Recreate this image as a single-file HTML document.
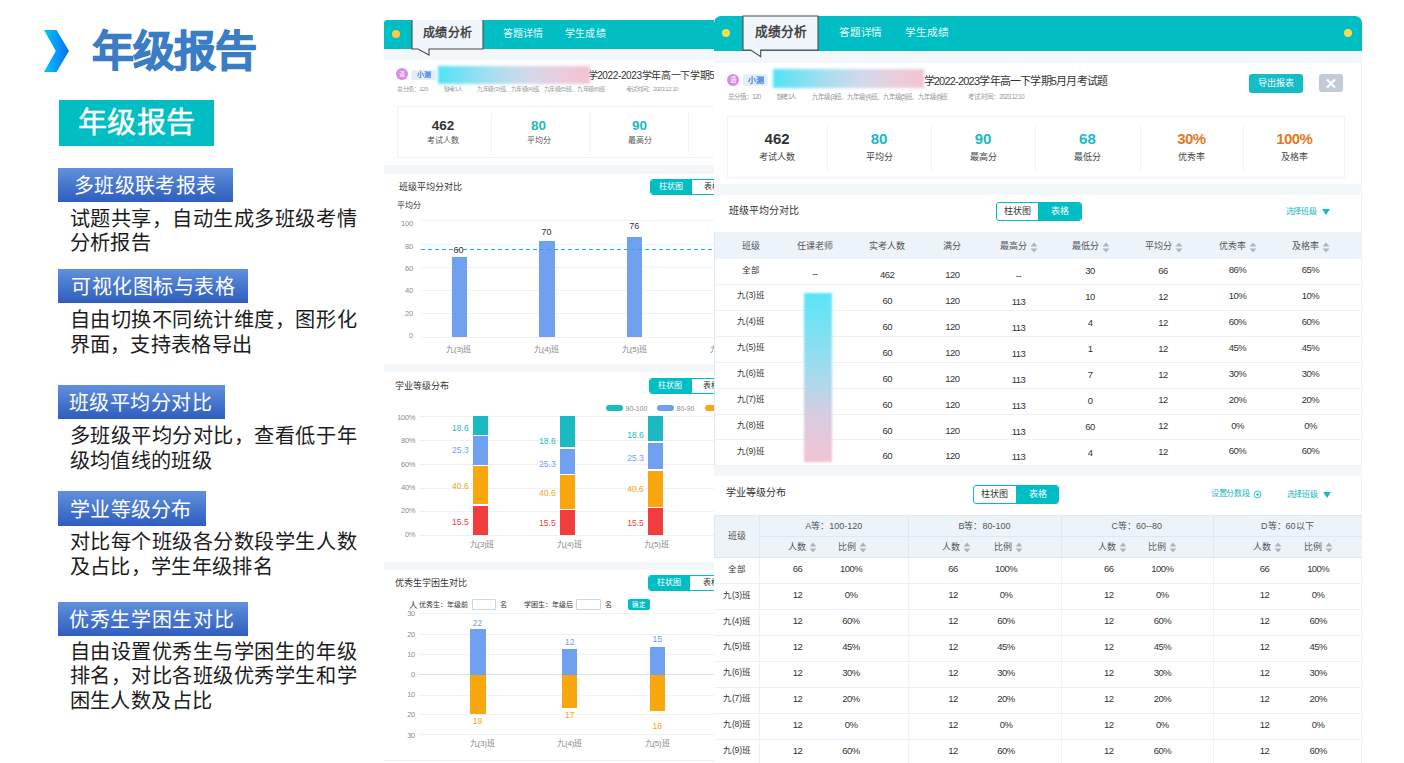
<!DOCTYPE html><html lang="zh-CN"><head><meta charset="utf-8"><style>
html,body{margin:0;padding:0;width:1404px;height:763px;overflow:hidden;background:#fff;font-family:"Liberation Sans",sans-serif;}
.t{position:absolute;white-space:nowrap;}
.r{position:absolute;box-sizing:border-box;}
.clip{position:absolute;overflow:hidden;}
</style></head><body>
<svg class="r" style="left:0;top:0" width="380" height="763"><defs><linearGradient id="chev" x1="0" y1="0" x2="1" y2="0"><stop offset="0" stop-color="#00c8fc"/><stop offset="1" stop-color="#0a6ef6"/></linearGradient><linearGradient id="lbl" x1="0" y1="0" x2="0" y2="1"><stop offset="0" stop-color="#5f8edb"/><stop offset="1" stop-color="#2f5ec0"/></linearGradient></defs><polygon points="44,30 56.5,30 69,51 56.5,72 44,72 55.8,51" fill="url(#chev)"/></svg>
<div class="t" style="left:92.0px;top:24.5px;height:54px;line-height:54px;font-size:42px;color:#3b7dc4;font-weight:bold;-webkit-text-stroke:1.1px #3b7dc4;letter-spacing:-0.967px">年级报告</div>
<div class="r" style="left:59.0px;top:100.0px;width:155.0px;height:46.0px;background:#00bec4"></div>
<div class="t" style="left:-13.4px;width:300px;text-align:center;top:104.5px;height:37px;line-height:37px;font-size:29px;color:#fff;font-weight:normal;-webkit-text-stroke:0.5px #fff;letter-spacing:0.150px">年级报告</div>
<div class="r" style="left:58px;top:168px;width:175px;height:34px;background:linear-gradient(#6090dc,#2e5dbf)"></div>
<div class="t" style="left:74.0px;top:173.2px;height:26px;line-height:26px;font-size:20px;color:#fff;font-weight:normal;;letter-spacing:0.333px">多班级联考报表</div>
<div class="t" style="left:69.5px;top:205.5px;height:26px;line-height:26px;font-size:20.2px;color:#1c1c1c;font-weight:normal;;letter-spacing:0.539px">试题共享，自动生成多班级考情</div>
<div class="t" style="left:69.5px;top:230.0px;height:26px;line-height:26px;font-size:20.2px;color:#1c1c1c;font-weight:normal;;letter-spacing:0.337px">分析报告</div>
<div class="r" style="left:58px;top:269px;width:190px;height:34px;background:linear-gradient(#6090dc,#2e5dbf)"></div>
<div class="t" style="left:71.3px;top:274.2px;height:26px;line-height:26px;font-size:20px;color:#fff;font-weight:normal;;letter-spacing:0.486px">可视化图标与表格</div>
<div class="t" style="left:69.5px;top:307.0px;height:26px;line-height:26px;font-size:20.2px;color:#1c1c1c;font-weight:normal;;letter-spacing:0.539px">自由切换不同统计维度，图形化</div>
<div class="t" style="left:69.5px;top:331.5px;height:26px;line-height:26px;font-size:20.2px;color:#1c1c1c;font-weight:normal;;letter-spacing:0.301px">界面，支持表格导出</div>
<div class="r" style="left:58px;top:385px;width:167px;height:34px;background:linear-gradient(#6090dc,#2e5dbf)"></div>
<div class="t" style="left:68.7px;top:390.2px;height:26px;line-height:26px;font-size:20px;color:#fff;font-weight:normal;;letter-spacing:0.500px">班级平均分对比</div>
<div class="t" style="left:69.5px;top:423.0px;height:26px;line-height:26px;font-size:20.2px;color:#1c1c1c;font-weight:normal;;letter-spacing:0.539px">多班级平均分对比，查看低于年</div>
<div class="t" style="left:69.5px;top:447.5px;height:26px;line-height:26px;font-size:20.2px;color:#1c1c1c;font-weight:normal;;letter-spacing:0.335px">级均值线的班级</div>
<div class="r" style="left:58px;top:491px;width:148px;height:35px;background:linear-gradient(#6090dc,#2e5dbf)"></div>
<div class="t" style="left:70.0px;top:496.7px;height:26px;line-height:26px;font-size:20px;color:#fff;font-weight:normal;;letter-spacing:0.300px">学业等级分布</div>
<div class="t" style="left:69.5px;top:529.0px;height:26px;line-height:26px;font-size:20.2px;color:#1c1c1c;font-weight:normal;;letter-spacing:0.539px">对比每个班级各分数段学生人数</div>
<div class="t" style="left:69.5px;top:553.5px;height:26px;line-height:26px;font-size:20.2px;color:#1c1c1c;font-weight:normal;;letter-spacing:0.334px">及占比，学生年级排名</div>
<div class="r" style="left:58px;top:602px;width:190px;height:34px;background:linear-gradient(#6090dc,#2e5dbf)"></div>
<div class="t" style="left:69.0px;top:607.2px;height:26px;line-height:26px;font-size:20px;color:#fff;font-weight:normal;;letter-spacing:0.643px">优秀生学困生对比</div>
<div class="t" style="left:69.5px;top:638.5px;height:26px;line-height:26px;font-size:20.2px;color:#1c1c1c;font-weight:normal;;letter-spacing:0.539px">自由设置优秀生与学困生的年级</div>
<div class="t" style="left:69.5px;top:663.0px;height:26px;line-height:26px;font-size:20.2px;color:#1c1c1c;font-weight:normal;;letter-spacing:0.539px">排名，对比各班级优秀学生和学</div>
<div class="t" style="left:69.5px;top:687.5px;height:26px;line-height:26px;font-size:20.2px;color:#1c1c1c;font-weight:normal;;letter-spacing:0.468px">困生人数及占比</div>
<div class="clip" style="left:0;top:0;width:714px;height:763px">
<div class="r" style="left:384.0px;top:20.0px;width:346.0px;height:29.0px;background:#00bec4;border-top-left-radius:3px"></div>
<div class="r" style="left:391.6px;top:30.0px;width:8.0px;height:8.0px;background:#f6cc46;border-radius:50%"></div>
<div class="r" style="left:384.0px;top:49.0px;width:330.0px;height:11.0px;background:#f4f7fa"></div>
<svg class="r" style="left:411px;top:20px;overflow:visible" width="73" height="37"><path d="M1,0 L1,29 L7,29 L18,35 L18,29 L72,29 L72,0 Z" fill="#eff5fb"/><path d="M1,0 L1,29 L7,29 L18,35 L18,29 L72,29 L72,0" fill="none" stroke="#4d4d4d" stroke-width="1.1"/></svg>
<div class="t" style="left:297.6px;width:300px;text-align:center;top:25.5px;height:15px;line-height:15px;font-size:12px;color:#444;font-weight:bold;;letter-spacing:0.200px">成绩分析</div>
<div class="t" style="left:503.0px;top:26.5px;height:13px;line-height:13px;font-size:10px;color:#eafafa;font-weight:normal;;letter-spacing:0.033px">答题详情</div>
<div class="t" style="left:565.0px;top:26.5px;height:13px;line-height:13px;font-size:10px;color:#eafafa;font-weight:normal;;letter-spacing:0.167px">学生成绩</div>
<div class="r" style="left:396.0px;top:68.4px;width:12.0px;height:12.0px;background:#d98ae6;border-radius:50%"></div>
<div class="t" style="left:252.0px;width:300px;text-align:center;top:70.9px;height:7px;line-height:7px;font-size:6px;color:#fff;font-weight:normal;">语</div>
<div class="r" style="left:411.4px;top:69.6px;width:24.4px;height:10.4px;background:#e6eef8;border-radius:2px"></div>
<div class="t" style="left:273.6px;width:300px;text-align:center;top:70.3px;height:9px;line-height:9px;font-size:7px;color:#3f7fe0;font-weight:bold;">小测</div>
<div class="t" style="left:587.5px;top:68.5px;height:13px;line-height:13px;font-size:10px;color:#333;font-weight:normal;;letter-spacing:-0.359px">学2022-2023学年高一下学期5月月考试题</div>
<div class="r" style="left:438.0px;top:65.5px;width:152.0px;height:18.5px;background:linear-gradient(90deg,#52e2f5 0%,#a6def0 35%,#d2d9ea 60%,#e9cddd 80%,#f3c3d2 100%);filter:blur(1.8px)"></div>
<div class="t" style="left:397.0px;top:85.5px;height:7px;line-height:7px;font-size:6px;color:#9a9a9a;font-weight:normal;;letter-spacing:-0.453px">总分值：120</div>
<div class="t" style="left:443.5px;top:85.5px;height:7px;line-height:7px;font-size:6px;color:#9a9a9a;font-weight:normal;;letter-spacing:-0.515px">缺考1人</div>
<div class="t" style="left:477.4px;top:85.5px;height:7px;line-height:7px;font-size:6px;color:#9a9a9a;font-weight:normal;;letter-spacing:-0.511px">九年级(3)班、九年级(4)班、九年级(5)班、九年级(6)班</div>
<div class="t" style="left:625.6px;top:85.5px;height:7px;line-height:7px;font-size:6px;color:#9a9a9a;font-weight:normal;;letter-spacing:-0.524px">考试时间：2023.12.10</div>
<div class="r" style="left:396.5px;top:105.7px;width:343.5px;height:52.8px;border:1px solid #f0f2f5"></div>
<div class="r" style="left:491.4px;top:113.0px;width:1.0px;height:40.0px;background:#f1f3f6"></div>
<div class="r" style="left:589.5px;top:113.0px;width:1.0px;height:40.0px;background:#f1f3f6"></div>
<div class="r" style="left:688.0px;top:113.0px;width:1.0px;height:40.0px;background:#f1f3f6"></div>
<div class="t" style="left:293.0px;width:300px;text-align:center;top:116.7px;height:17px;line-height:17px;font-size:13.5px;color:#333;font-weight:bold;">462</div>
<div class="t" style="left:293.0px;width:300px;text-align:center;top:136.0px;height:10px;line-height:10px;font-size:8px;color:#555;font-weight:normal;">考试人数</div>
<div class="t" style="left:388.6px;width:300px;text-align:center;top:116.7px;height:17px;line-height:17px;font-size:13.5px;color:#1bb9c1;font-weight:bold;">80</div>
<div class="t" style="left:388.6px;width:300px;text-align:center;top:136.0px;height:10px;line-height:10px;font-size:8px;color:#555;font-weight:normal;">平均分</div>
<div class="t" style="left:489.6px;width:300px;text-align:center;top:116.7px;height:17px;line-height:17px;font-size:13.5px;color:#1bb9c1;font-weight:bold;">90</div>
<div class="t" style="left:489.6px;width:300px;text-align:center;top:136.0px;height:10px;line-height:10px;font-size:8px;color:#555;font-weight:normal;">最高分</div>
<div class="r" style="left:384.0px;top:165.0px;width:330.0px;height:8.6px;background:#f4f7fa"></div>
<div class="t" style="left:399.0px;top:182.0px;height:11px;line-height:11px;font-size:9px;color:#333;font-weight:normal;">班级平均分对比</div>
<div class="r" style="left:650px;top:179px;width:82px;height:16.400000000000006px;border:1px solid #00bec4;border-radius:3px;background:#fff;overflow:hidden"><div style="position:absolute;left:0;top:0;width:41.200000000000045px;height:100%;background:#00bec4"></div></div>
<div class="t" style="left:520.6px;width:300px;text-align:center;top:182.2px;height:10px;line-height:10px;font-size:8px;color:#fff;font-weight:normal;">柱状图</div>
<div class="t" style="left:561.6px;width:300px;text-align:center;top:182.2px;height:10px;line-height:10px;font-size:8px;color:#333;font-weight:normal;">表格</div>
<div class="t" style="left:397.0px;top:201.0px;height:10px;line-height:10px;font-size:8px;color:#333;font-weight:normal;">平均分</div>
<div class="r" style="left:421.0px;top:220.3px;width:293.0px;height:1.0px;background:#f0f1f3"></div>
<div class="t" style="left:113.0px;width:300px;text-align:right;top:219.2px;height:9px;line-height:9px;font-size:7.5px;color:#8c8c8c;font-weight:normal;letter-spacing:-0.2px">100</div>
<div class="r" style="left:421.0px;top:243.6px;width:293.0px;height:1.0px;background:#f0f1f3"></div>
<div class="t" style="left:113.0px;width:300px;text-align:right;top:241.6px;height:9px;line-height:9px;font-size:7.5px;color:#8c8c8c;font-weight:normal;letter-spacing:-0.2px">80</div>
<div class="r" style="left:421.0px;top:266.9px;width:293.0px;height:1.0px;background:#f0f1f3"></div>
<div class="t" style="left:113.0px;width:300px;text-align:right;top:264.0px;height:9px;line-height:9px;font-size:7.5px;color:#8c8c8c;font-weight:normal;letter-spacing:-0.2px">60</div>
<div class="r" style="left:421.0px;top:290.1px;width:293.0px;height:1.0px;background:#f0f1f3"></div>
<div class="t" style="left:113.0px;width:300px;text-align:right;top:286.4px;height:9px;line-height:9px;font-size:7.5px;color:#8c8c8c;font-weight:normal;letter-spacing:-0.2px">40</div>
<div class="r" style="left:421.0px;top:313.4px;width:293.0px;height:1.0px;background:#f0f1f3"></div>
<div class="t" style="left:113.0px;width:300px;text-align:right;top:308.8px;height:9px;line-height:9px;font-size:7.5px;color:#8c8c8c;font-weight:normal;letter-spacing:-0.2px">20</div>
<div class="r" style="left:421.0px;top:336.7px;width:293.0px;height:1.0px;background:#f0f1f3"></div>
<div class="t" style="left:113.0px;width:300px;text-align:right;top:331.2px;height:9px;line-height:9px;font-size:7.5px;color:#8c8c8c;font-weight:normal;letter-spacing:-0.2px">0</div>
<div class="r" style="left:452.0px;top:256.5px;width:15.3px;height:80.2px;background:#70a1f1"></div>
<div class="r" style="left:539.4px;top:240.8px;width:15.4px;height:95.9px;background:#70a1f1"></div>
<div class="r" style="left:626.9px;top:236.8px;width:15.2px;height:99.9px;background:#70a1f1"></div>
<svg class="r" style="left:421px;top:248px" width="293" height="3"><line x1="0" y1="1.5" x2="293" y2="1.5" stroke="#1cb8c0" stroke-width="1.2" stroke-dasharray="4,3"/></svg>
<div class="t" style="left:308.6px;width:300px;text-align:center;top:244.5px;height:11px;line-height:11px;font-size:9px;color:#333;font-weight:normal;">60</div>
<div class="t" style="left:396.4px;width:300px;text-align:center;top:226.6px;height:11px;line-height:11px;font-size:9px;color:#333;font-weight:normal;">70</div>
<div class="t" style="left:484.3px;width:300px;text-align:center;top:221.4px;height:11px;line-height:11px;font-size:9px;color:#333;font-weight:normal;">76</div>
<div class="t" style="left:308.6px;width:300px;text-align:center;top:345.3px;height:10px;line-height:10px;font-size:8px;color:#888;font-weight:normal;letter-spacing:-0.2px">九(3)班</div>
<div class="t" style="left:396.4px;width:300px;text-align:center;top:345.3px;height:10px;line-height:10px;font-size:8px;color:#888;font-weight:normal;letter-spacing:-0.2px">九(4)班</div>
<div class="t" style="left:484.3px;width:300px;text-align:center;top:345.3px;height:10px;line-height:10px;font-size:8px;color:#888;font-weight:normal;letter-spacing:-0.2px">九(5)班</div>
<div class="t" style="left:572.0px;width:300px;text-align:center;top:345.3px;height:10px;line-height:10px;font-size:8px;color:#888;font-weight:normal;letter-spacing:-0.2px">九(6)班</div>
<div class="r" style="left:384.0px;top:364.0px;width:330.0px;height:7.6px;background:#f4f7fa"></div>
<div class="t" style="left:395.0px;top:380.7px;height:11px;line-height:11px;font-size:9px;color:#333;font-weight:normal;">学业等级分布</div>
<div class="r" style="left:649.3px;top:377.9px;width:82.70000000000005px;height:15.700000000000045px;border:1px solid #00bec4;border-radius:3px;background:#fff;overflow:hidden"><div style="position:absolute;left:0;top:0;width:41.30000000000007px;height:100%;background:#00bec4"></div></div>
<div class="t" style="left:520.0px;width:300px;text-align:center;top:380.8px;height:10px;line-height:10px;font-size:8px;color:#fff;font-weight:normal;">柱状图</div>
<div class="t" style="left:561.3px;width:300px;text-align:center;top:380.8px;height:10px;line-height:10px;font-size:8px;color:#333;font-weight:normal;">表格</div>
<div class="r" style="left:605.8px;top:405.2px;width:17.0px;height:6.0px;background:#1bb9c1;border-radius:3px"></div>
<div class="t" style="left:625.6px;top:403.7px;height:9px;line-height:9px;font-size:7px;color:#888;font-weight:normal;">90-100</div>
<div class="r" style="left:656.7px;top:405.2px;width:17.3px;height:6.0px;background:#70a1f1;border-radius:3px"></div>
<div class="t" style="left:676.5px;top:403.7px;height:9px;line-height:9px;font-size:7px;color:#888;font-weight:normal;">80-90</div>
<div class="r" style="left:704.9px;top:405.2px;width:17.1px;height:6.0px;background:#f8a70e;border-radius:3px"></div>
<div class="r" style="left:418.5px;top:416.4px;width:295.5px;height:1.0px;background:#f0f1f3"></div>
<div class="t" style="left:115.2px;width:300px;text-align:right;top:412.8px;height:9px;line-height:9px;font-size:7.5px;color:#8c8c8c;font-weight:normal;letter-spacing:-0.3px">100%</div>
<div class="r" style="left:418.5px;top:440.1px;width:295.5px;height:1.0px;background:#f0f1f3"></div>
<div class="t" style="left:115.2px;width:300px;text-align:right;top:436.1px;height:9px;line-height:9px;font-size:7.5px;color:#8c8c8c;font-weight:normal;letter-spacing:-0.3px">80%</div>
<div class="r" style="left:418.5px;top:463.9px;width:295.5px;height:1.0px;background:#f0f1f3"></div>
<div class="t" style="left:115.2px;width:300px;text-align:right;top:459.5px;height:9px;line-height:9px;font-size:7.5px;color:#8c8c8c;font-weight:normal;letter-spacing:-0.3px">60%</div>
<div class="r" style="left:418.5px;top:487.6px;width:295.5px;height:1.0px;background:#f0f1f3"></div>
<div class="t" style="left:115.2px;width:300px;text-align:right;top:482.8px;height:9px;line-height:9px;font-size:7.5px;color:#8c8c8c;font-weight:normal;letter-spacing:-0.3px">40%</div>
<div class="r" style="left:418.5px;top:511.4px;width:295.5px;height:1.0px;background:#f0f1f3"></div>
<div class="t" style="left:115.2px;width:300px;text-align:right;top:506.2px;height:9px;line-height:9px;font-size:7.5px;color:#8c8c8c;font-weight:normal;letter-spacing:-0.3px">20%</div>
<div class="r" style="left:418.5px;top:535.1px;width:295.5px;height:1.0px;background:#f0f1f3"></div>
<div class="t" style="left:115.2px;width:300px;text-align:right;top:529.5px;height:9px;line-height:9px;font-size:7.5px;color:#8c8c8c;font-weight:normal;letter-spacing:-0.3px">0%</div>
<div class="r" style="left:472.8px;top:416.4px;width:15.1px;height:18.2px;background:#1bb9c1"></div>
<div class="t" style="left:310.4px;width:300px;text-align:center;top:422.8px;height:11px;line-height:11px;font-size:8.5px;color:#1bb9c1;font-weight:normal;">18.6</div>
<div class="r" style="left:472.8px;top:435.8px;width:15.1px;height:29.1px;background:#70a1f1"></div>
<div class="t" style="left:310.4px;width:300px;text-align:center;top:445.4px;height:11px;line-height:11px;font-size:8.5px;color:#70a1f1;font-weight:normal;">25.3</div>
<div class="r" style="left:472.8px;top:466.1px;width:15.1px;height:38.4px;background:#f8a70e"></div>
<div class="t" style="left:310.4px;width:300px;text-align:center;top:480.6px;height:11px;line-height:11px;font-size:8.5px;color:#f1a50f;font-weight:normal;">40.6</div>
<div class="r" style="left:472.8px;top:505.7px;width:15.1px;height:29.4px;background:#f23d3f"></div>
<div class="t" style="left:310.4px;width:300px;text-align:center;top:516.9px;height:11px;line-height:11px;font-size:8.5px;color:#e8423f;font-weight:normal;">15.5</div>
<div class="r" style="left:560.3px;top:416.4px;width:15.2px;height:31.1px;background:#1bb9c1"></div>
<div class="t" style="left:397.4px;width:300px;text-align:center;top:436.3px;height:11px;line-height:11px;font-size:8.5px;color:#1bb9c1;font-weight:normal;">18.6</div>
<div class="r" style="left:560.3px;top:448.7px;width:15.2px;height:25.0px;background:#70a1f1"></div>
<div class="t" style="left:397.4px;width:300px;text-align:center;top:458.5px;height:11px;line-height:11px;font-size:8.5px;color:#70a1f1;font-weight:normal;">25.3</div>
<div class="r" style="left:560.3px;top:474.9px;width:15.2px;height:33.7px;background:#f8a70e"></div>
<div class="t" style="left:397.4px;width:300px;text-align:center;top:488.0px;height:11px;line-height:11px;font-size:8.5px;color:#f1a50f;font-weight:normal;">40.6</div>
<div class="r" style="left:560.3px;top:509.8px;width:15.2px;height:25.3px;background:#f23d3f"></div>
<div class="t" style="left:397.4px;width:300px;text-align:center;top:517.8px;height:11px;line-height:11px;font-size:8.5px;color:#e8423f;font-weight:normal;">15.5</div>
<div class="r" style="left:647.6px;top:416.4px;width:15.2px;height:25.0px;background:#1bb9c1"></div>
<div class="t" style="left:485.5px;width:300px;text-align:center;top:430.2px;height:11px;line-height:11px;font-size:8.5px;color:#1bb9c1;font-weight:normal;">18.6</div>
<div class="r" style="left:647.6px;top:442.6px;width:15.2px;height:26.9px;background:#70a1f1"></div>
<div class="t" style="left:485.5px;width:300px;text-align:center;top:452.8px;height:11px;line-height:11px;font-size:8.5px;color:#70a1f1;font-weight:normal;">25.3</div>
<div class="r" style="left:647.6px;top:470.7px;width:15.2px;height:36.0px;background:#f8a70e"></div>
<div class="t" style="left:485.5px;width:300px;text-align:center;top:483.9px;height:11px;line-height:11px;font-size:8.5px;color:#f1a50f;font-weight:normal;">40.6</div>
<div class="r" style="left:647.6px;top:507.9px;width:15.2px;height:27.2px;background:#f23d3f"></div>
<div class="t" style="left:485.5px;width:300px;text-align:center;top:518.3px;height:11px;line-height:11px;font-size:8.5px;color:#e8423f;font-weight:normal;">15.5</div>
<div class="t" style="left:331.9px;width:300px;text-align:center;top:540.3px;height:10px;line-height:10px;font-size:8px;color:#888;font-weight:normal;letter-spacing:-0.2px">九(3)班</div>
<div class="t" style="left:419.2px;width:300px;text-align:center;top:540.3px;height:10px;line-height:10px;font-size:8px;color:#888;font-weight:normal;letter-spacing:-0.2px">九(4)班</div>
<div class="t" style="left:506.2px;width:300px;text-align:center;top:540.3px;height:10px;line-height:10px;font-size:8px;color:#888;font-weight:normal;letter-spacing:-0.2px">九(5)班</div>
<div class="r" style="left:384.0px;top:562.4px;width:330.0px;height:7.6px;background:#f4f7fa"></div>
<div class="t" style="left:395.4px;top:577.9px;height:11px;line-height:11px;font-size:9px;color:#333;font-weight:normal;">优秀生学困生对比</div>
<div class="r" style="left:648.2px;top:575.2px;width:83.79999999999995px;height:16.199999999999932px;border:1px solid #00bec4;border-radius:3px;background:#fff;overflow:hidden"><div style="position:absolute;left:0;top:0;width:41.19999999999993px;height:100%;background:#00bec4"></div></div>
<div class="t" style="left:518.8px;width:300px;text-align:center;top:578.3px;height:10px;line-height:10px;font-size:8px;color:#fff;font-weight:normal;">柱状图</div>
<div class="t" style="left:560.7px;width:300px;text-align:center;top:578.3px;height:10px;line-height:10px;font-size:8px;color:#333;font-weight:normal;">表格</div>
<div class="t" style="left:408.5px;top:599.8px;height:11px;line-height:11px;font-size:8.5px;color:#333;font-weight:normal;">人</div>
<div class="t" style="left:419.4px;top:600.2px;height:9px;line-height:9px;font-size:7px;color:#333;font-weight:normal;">优秀生：年级前</div>
<div class="r" style="left:471.8px;top:599.4px;width:24.7px;height:10.3px;border:1px solid #cfd5dc;border-radius:1px;background:#fff"></div>
<div class="t" style="left:500.0px;top:600.2px;height:9px;line-height:9px;font-size:7px;color:#333;font-weight:normal;">名</div>
<div class="t" style="left:523.7px;top:600.2px;height:9px;line-height:9px;font-size:7px;color:#333;font-weight:normal;">学困生：年级后</div>
<div class="r" style="left:576.3px;top:599.4px;width:25.0px;height:10.3px;border:1px solid #cfd5dc;border-radius:1px;background:#fff"></div>
<div class="t" style="left:604.8px;top:600.2px;height:9px;line-height:9px;font-size:7px;color:#333;font-weight:normal;">名</div>
<div class="r" style="left:628.2px;top:599.4px;width:22.3px;height:10.6px;background:#00bec4;border-radius:2px"></div>
<div class="t" style="left:489.3px;width:300px;text-align:center;top:600.7px;height:8px;line-height:8px;font-size:6.5px;color:#fff;font-weight:normal;">确定</div>
<div class="r" style="left:418.0px;top:612.8px;width:296.0px;height:1.0px;background:#f0f1f3"></div>
<div class="t" style="left:115.1px;width:300px;text-align:right;top:608.7px;height:9px;line-height:9px;font-size:7.5px;color:#8c8c8c;font-weight:normal;letter-spacing:-0.2px">30</div>
<div class="r" style="left:418.0px;top:633.5px;width:296.0px;height:1.0px;background:#f0f1f3"></div>
<div class="t" style="left:115.1px;width:300px;text-align:right;top:629.5px;height:9px;line-height:9px;font-size:7.5px;color:#8c8c8c;font-weight:normal;letter-spacing:-0.2px">20</div>
<div class="r" style="left:418.0px;top:654.0px;width:296.0px;height:1.0px;background:#f0f1f3"></div>
<div class="t" style="left:115.1px;width:300px;text-align:right;top:649.9px;height:9px;line-height:9px;font-size:7.5px;color:#8c8c8c;font-weight:normal;letter-spacing:-0.2px">10</div>
<div class="r" style="left:418.0px;top:673.9px;width:296.0px;height:1.0px;background:#dcdfe3"></div>
<div class="t" style="left:115.1px;width:300px;text-align:right;top:669.9px;height:9px;line-height:9px;font-size:7.5px;color:#8c8c8c;font-weight:normal;letter-spacing:-0.2px">0</div>
<div class="r" style="left:418.0px;top:694.5px;width:296.0px;height:1.0px;background:#f0f1f3"></div>
<div class="t" style="left:115.1px;width:300px;text-align:right;top:690.4px;height:9px;line-height:9px;font-size:7.5px;color:#8c8c8c;font-weight:normal;letter-spacing:-0.2px">10</div>
<div class="r" style="left:418.0px;top:714.0px;width:296.0px;height:1.0px;background:#f0f1f3"></div>
<div class="t" style="left:115.1px;width:300px;text-align:right;top:710.3px;height:9px;line-height:9px;font-size:7.5px;color:#8c8c8c;font-weight:normal;letter-spacing:-0.2px">20</div>
<div class="r" style="left:418.0px;top:734.4px;width:296.0px;height:1.0px;background:#f0f1f3"></div>
<div class="t" style="left:115.1px;width:300px;text-align:right;top:731.1px;height:9px;line-height:9px;font-size:7.5px;color:#8c8c8c;font-weight:normal;letter-spacing:-0.2px">30</div>
<div class="r" style="left:469.9px;top:628.6px;width:15.7px;height:46.0px;background:#70a1f1"></div>
<div class="r" style="left:469.9px;top:675.0px;width:15.7px;height:38.8px;background:#f8a70e"></div>
<div class="t" style="left:327.6px;width:300px;text-align:center;top:617.5px;height:11px;line-height:11px;font-size:8.5px;color:#6e9eee;font-weight:normal;">22</div>
<div class="t" style="left:327.6px;width:300px;text-align:center;top:715.5px;height:11px;line-height:11px;font-size:8.5px;color:#f1a50f;font-weight:normal;">19</div>
<div class="r" style="left:561.7px;top:648.6px;width:15.7px;height:26.0px;background:#70a1f1"></div>
<div class="r" style="left:561.7px;top:675.0px;width:15.7px;height:33.4px;background:#f8a70e"></div>
<div class="t" style="left:419.7px;width:300px;text-align:center;top:637.0px;height:11px;line-height:11px;font-size:8.5px;color:#6e9eee;font-weight:normal;">12</div>
<div class="t" style="left:419.7px;width:300px;text-align:center;top:710.1px;height:11px;line-height:11px;font-size:8.5px;color:#f1a50f;font-weight:normal;">17</div>
<div class="r" style="left:649.5px;top:646.5px;width:15.7px;height:28.1px;background:#70a1f1"></div>
<div class="r" style="left:649.5px;top:675.0px;width:15.7px;height:36.1px;background:#f8a70e"></div>
<div class="t" style="left:507.2px;width:300px;text-align:center;top:634.3px;height:11px;line-height:11px;font-size:8.5px;color:#6e9eee;font-weight:normal;">15</div>
<div class="t" style="left:507.2px;width:300px;text-align:center;top:720.8px;height:11px;line-height:11px;font-size:8.5px;color:#f1a50f;font-weight:normal;">18</div>
<div class="t" style="left:332.2px;width:300px;text-align:center;top:738.6px;height:10px;line-height:10px;font-size:8px;color:#888;font-weight:normal;letter-spacing:-0.2px">九(3)班</div>
<div class="t" style="left:419.6px;width:300px;text-align:center;top:738.6px;height:10px;line-height:10px;font-size:8px;color:#888;font-weight:normal;letter-spacing:-0.2px">九(4)班</div>
<div class="t" style="left:507.0px;width:300px;text-align:center;top:738.6px;height:10px;line-height:10px;font-size:8px;color:#888;font-weight:normal;letter-spacing:-0.2px">九(5)班</div>
<div class="r" style="left:384.0px;top:759.7px;width:330.0px;height:1.0px;background:#e3f0fa"></div>
</div>
<div class="r" style="left:714.0px;top:16.0px;width:648.0px;height:747.0px;background:#fff;border-right:1px solid #eef2f6"></div>
<div class="r" style="left:714.0px;top:16.0px;width:648.0px;height:34.5px;background:#00bec4;border-radius:7px 7px 0 0"></div>
<div class="r" style="left:722.3px;top:29.2px;width:8.0px;height:8.0px;background:#f8dc4b;border-radius:50%"></div>
<div class="r" style="left:1344.4px;top:29.3px;width:8.0px;height:8.0px;background:#f8dc4b;border-radius:50%"></div>
<div class="r" style="left:714.0px;top:50.5px;width:648.0px;height:12.3px;background:#f4f7fa"></div>
<svg class="r" style="left:742.3px;top:16.4px;overflow:visible" width="77.0" height="42.800000000000004"><path d="M1,0 L1,34.1 L8.700000000000045,34.1 L18.700000000000045,40.800000000000004 L18.700000000000045,34.1 L76.0,34.1 L76.0,0 Z" fill="#eff5fb"/><path d="M1,0 L1,34.1 L8.700000000000045,34.1 L18.700000000000045,40.800000000000004 L18.700000000000045,34.1 L76.0,34.1 L76.0,0 Z" fill="none" stroke="#4d4d4d" stroke-width="1.1"/></svg>
<div class="t" style="left:630.7px;width:300px;text-align:center;top:24.0px;height:16px;line-height:16px;font-size:12.7px;color:#444;font-weight:bold;;letter-spacing:-0.122px">成绩分析</div>
<div class="t" style="left:839.3px;top:26.0px;height:13px;line-height:13px;font-size:10.7px;color:#eafafa;font-weight:normal;;letter-spacing:-0.288px">答题详情</div>
<div class="t" style="left:905.4px;top:26.0px;height:13px;line-height:13px;font-size:10.7px;color:#eafafa;font-weight:normal;;letter-spacing:-0.288px">学生成绩</div>
<div class="r" style="left:727.0px;top:74.0px;width:12.0px;height:12.0px;background:#d98ae6;border-radius:50%"></div>
<div class="t" style="left:583.0px;width:300px;text-align:center;top:76.0px;height:8px;line-height:8px;font-size:6.5px;color:#fff;font-weight:normal;">语</div>
<div class="r" style="left:743.0px;top:74.4px;width:25.3px;height:12.1px;background:#e6eef8;border-radius:2px"></div>
<div class="t" style="left:605.6px;width:300px;text-align:center;top:75.5px;height:10px;line-height:10px;font-size:8px;color:#3f7fe0;font-weight:bold;">小测</div>
<div class="t" style="left:923.5px;top:74.0px;height:14px;line-height:14px;font-size:11px;color:#333;font-weight:normal;;letter-spacing:-0.781px">学2022-2023学年高一下学期5月月考试题</div>
<div class="r" style="left:773.0px;top:68.5px;width:151.0px;height:19.0px;background:linear-gradient(90deg,#52e2f5 0%,#a6def0 35%,#d2d9ea 60%,#e9cddd 80%,#f3c3d2 100%);filter:blur(1.8px)"></div>
<div class="t" style="left:728.0px;top:92.7px;height:8px;line-height:8px;font-size:6.5px;color:#9a9a9a;font-weight:normal;;letter-spacing:-0.922px">总分值：120</div>
<div class="t" style="left:776.7px;top:92.7px;height:8px;line-height:8px;font-size:6.5px;color:#9a9a9a;font-weight:normal;;letter-spacing:-1.333px">缺考1人</div>
<div class="t" style="left:812.0px;top:92.7px;height:8px;line-height:8px;font-size:6.5px;color:#9a9a9a;font-weight:normal;;letter-spacing:-0.949px">九年级(3)班、九年级(4)班、九年级(5)班、九年级(6)班</div>
<div class="t" style="left:968.2px;top:92.7px;height:8px;line-height:8px;font-size:6.5px;color:#9a9a9a;font-weight:normal;;letter-spacing:-0.802px">考试时间：2023.12.10</div>
<div class="r" style="left:1249.0px;top:73.7px;width:54.0px;height:19.0px;background:#14bcc3;border-radius:3px"></div>
<div class="t" style="left:1126.0px;width:300px;text-align:center;top:77.7px;height:11px;line-height:11px;font-size:9px;color:#fff;font-weight:normal;">导出报表</div>
<div class="r" style="left:1319.2px;top:73.9px;width:23.8px;height:18.6px;background:#c3ccd6;border-radius:3px"></div>
<svg class="r" style="left:1319px;top:74px" width="24" height="19"><path d="M8,5.5 L16,13.5 M16,5.5 L8,13.5" stroke="#fff" stroke-width="2.2"/></svg>
<div class="r" style="left:727.2px;top:116.3px;width:617.8px;height:61.7px;border:1px solid #f0f2f5"></div>
<div class="r" style="left:827.0px;top:123.0px;width:1.0px;height:49.0px;background:#f1f3f6"></div>
<div class="r" style="left:931.0px;top:123.0px;width:1.0px;height:49.0px;background:#f1f3f6"></div>
<div class="r" style="left:1035.3px;top:123.0px;width:1.0px;height:49.0px;background:#f1f3f6"></div>
<div class="r" style="left:1139.6px;top:123.0px;width:1.0px;height:49.0px;background:#f1f3f6"></div>
<div class="r" style="left:1243.3px;top:123.0px;width:1.0px;height:49.0px;background:#f1f3f6"></div>
<div class="t" style="left:627.1px;width:300px;text-align:center;top:128.7px;height:19px;line-height:19px;font-size:15px;color:#333;font-weight:bold;">462</div>
<div class="t" style="left:627.1px;width:300px;text-align:center;top:151.9px;height:11px;line-height:11px;font-size:9px;color:#444;font-weight:normal;">考试人数</div>
<div class="t" style="left:729.0px;width:300px;text-align:center;top:128.7px;height:19px;line-height:19px;font-size:15px;color:#1bb9c1;font-weight:bold;">80</div>
<div class="t" style="left:729.0px;width:300px;text-align:center;top:151.9px;height:11px;line-height:11px;font-size:9px;color:#444;font-weight:normal;">平均分</div>
<div class="t" style="left:833.1px;width:300px;text-align:center;top:128.7px;height:19px;line-height:19px;font-size:15px;color:#1bb9c1;font-weight:bold;">90</div>
<div class="t" style="left:833.1px;width:300px;text-align:center;top:151.9px;height:11px;line-height:11px;font-size:9px;color:#444;font-weight:normal;">最高分</div>
<div class="t" style="left:937.4px;width:300px;text-align:center;top:128.7px;height:19px;line-height:19px;font-size:15px;color:#1bb9c1;font-weight:bold;">68</div>
<div class="t" style="left:937.4px;width:300px;text-align:center;top:151.9px;height:11px;line-height:11px;font-size:9px;color:#444;font-weight:normal;">最低分</div>
<div class="t" style="left:1041.4px;width:300px;text-align:center;top:128.7px;height:19px;line-height:19px;font-size:15px;color:#e8791c;font-weight:bold;letter-spacing:-0.6px">30%</div>
<div class="t" style="left:1041.4px;width:300px;text-align:center;top:151.9px;height:11px;line-height:11px;font-size:9px;color:#444;font-weight:normal;">优秀率</div>
<div class="t" style="left:1144.2px;width:300px;text-align:center;top:128.7px;height:19px;line-height:19px;font-size:15px;color:#e8791c;font-weight:bold;letter-spacing:-0.6px">100%</div>
<div class="t" style="left:1144.2px;width:300px;text-align:center;top:151.9px;height:11px;line-height:11px;font-size:9px;color:#444;font-weight:normal;">及格率</div>
<div class="r" style="left:714.0px;top:184.0px;width:648.0px;height:10.7px;background:#f4f7fa"></div>
<div class="t" style="left:729.3px;top:203.5px;height:13px;line-height:13px;font-size:10px;color:#333;font-weight:normal;">班级平均分对比</div>
<div class="r" style="left:995.6px;top:202.3px;width:86.19999999999993px;height:18.399999999999977px;border:1px solid #00bec4;border-radius:3px;background:#fff;overflow:hidden"><div style="position:absolute;left:41.69999999999993px;top:0;right:0;height:100%;background:#00bec4"></div></div>
<div class="t" style="left:867.0px;width:300px;text-align:center;top:206.0px;height:11px;line-height:11px;font-size:9px;color:#333;font-weight:normal;">柱状图</div>
<div class="t" style="left:910.0px;width:300px;text-align:center;top:206.0px;height:11px;line-height:11px;font-size:9px;color:#fff;font-weight:normal;">表格</div>
<div class="t" style="left:1285.6px;top:206.5px;height:10px;line-height:10px;font-size:8px;color:#1bb9c1;font-weight:normal;letter-spacing:-0.3px">选择班级</div>
<svg class="r" style="left:1322.1px;top:209.0px" width="8" height="6"><path d="M0,0 L8,0 L4,6 Z" fill="#1bb9c1"/></svg>
<div class="r" style="left:714.0px;top:232.3px;width:648.0px;height:26.3px;background:#edf4f9"></div>
<div class="t" style="left:600.7px;width:300px;text-align:center;top:241.0px;height:11px;line-height:11px;font-size:9px;color:#555;font-weight:normal;">班级</div>
<div class="t" style="left:664.8px;width:300px;text-align:center;top:241.0px;height:11px;line-height:11px;font-size:9px;color:#555;font-weight:normal;">任课老师</div>
<div class="t" style="left:737.2px;width:300px;text-align:center;top:241.0px;height:11px;line-height:11px;font-size:9px;color:#555;font-weight:normal;">实考人数</div>
<div class="t" style="left:802.3px;width:300px;text-align:center;top:241.0px;height:11px;line-height:11px;font-size:9px;color:#555;font-weight:normal;">满分</div>
<div class="t" style="left:999.9px;top:241.0px;height:11px;line-height:11px;font-size:9px;color:#555;font-weight:normal;">最高分</div>
<svg class="r" style="left:1029.9px;top:241.5px" width="8" height="11"><path d="M4,0.5 L7.5,4.6 L0.5,4.6 Z M4,10.5 L7.5,6.4 L0.5,6.4 Z" fill="#b0b4ba"/></svg>
<div class="t" style="left:1071.5px;top:241.0px;height:11px;line-height:11px;font-size:9px;color:#555;font-weight:normal;">最低分</div>
<svg class="r" style="left:1101.5px;top:241.5px" width="8" height="11"><path d="M4,0.5 L7.5,4.6 L0.5,4.6 Z M4,10.5 L7.5,6.4 L0.5,6.4 Z" fill="#b0b4ba"/></svg>
<div class="t" style="left:1144.5px;top:241.0px;height:11px;line-height:11px;font-size:9px;color:#555;font-weight:normal;">平均分</div>
<svg class="r" style="left:1174.5px;top:241.5px" width="8" height="11"><path d="M4,0.5 L7.5,4.6 L0.5,4.6 Z M4,10.5 L7.5,6.4 L0.5,6.4 Z" fill="#b0b4ba"/></svg>
<div class="t" style="left:1219.0px;top:241.0px;height:11px;line-height:11px;font-size:9px;color:#555;font-weight:normal;">优秀率</div>
<svg class="r" style="left:1249.0px;top:241.5px" width="8" height="11"><path d="M4,0.5 L7.5,4.6 L0.5,4.6 Z M4,10.5 L7.5,6.4 L0.5,6.4 Z" fill="#b0b4ba"/></svg>
<div class="t" style="left:1292.0px;top:241.0px;height:11px;line-height:11px;font-size:9px;color:#555;font-weight:normal;">及格率</div>
<svg class="r" style="left:1322.0px;top:241.5px" width="8" height="11"><path d="M4,0.5 L7.5,4.6 L0.5,4.6 Z M4,10.5 L7.5,6.4 L0.5,6.4 Z" fill="#b0b4ba"/></svg>
<div class="r" style="left:714.0px;top:284.0px;width:648.0px;height:0.8px;background:#eef1f4"></div>
<div class="t" style="left:600.7px;width:300px;text-align:center;top:264.5px;height:11px;line-height:11px;font-size:8.5px;color:#333;font-weight:normal;letter-spacing:-0.2px">全部</div>
<div class="t" style="left:664.8px;width:300px;text-align:center;top:267.9px;height:12px;line-height:12px;font-size:9.5px;color:#333;font-weight:normal;letter-spacing:-0.55px">--</div>
<div class="t" style="left:737.2px;width:300px;text-align:center;top:269.1px;height:12px;line-height:12px;font-size:9.5px;color:#333;font-weight:normal;letter-spacing:-0.55px">462</div>
<div class="t" style="left:802.3px;width:300px;text-align:center;top:269.1px;height:12px;line-height:12px;font-size:9.5px;color:#333;font-weight:normal;letter-spacing:-0.55px">120</div>
<div class="t" style="left:868.4px;width:300px;text-align:center;top:270.1px;height:12px;line-height:12px;font-size:9.5px;color:#333;font-weight:normal;letter-spacing:-0.55px">--</div>
<div class="t" style="left:940.0px;width:300px;text-align:center;top:265.3px;height:12px;line-height:12px;font-size:9.5px;color:#333;font-weight:normal;letter-spacing:-0.55px">30</div>
<div class="t" style="left:1013.0px;width:300px;text-align:center;top:264.9px;height:12px;line-height:12px;font-size:9.5px;color:#333;font-weight:normal;letter-spacing:-0.55px">66</div>
<div class="t" style="left:1087.5px;width:300px;text-align:center;top:264.1px;height:12px;line-height:12px;font-size:9.5px;color:#333;font-weight:normal;letter-spacing:-0.55px">86%</div>
<div class="t" style="left:1160.5px;width:300px;text-align:center;top:264.1px;height:12px;line-height:12px;font-size:9.5px;color:#333;font-weight:normal;letter-spacing:-0.55px">65%</div>
<div class="r" style="left:714.0px;top:309.9px;width:648.0px;height:0.8px;background:#eef1f4"></div>
<div class="t" style="left:600.7px;width:300px;text-align:center;top:290.4px;height:11px;line-height:11px;font-size:8.5px;color:#333;font-weight:normal;letter-spacing:-0.2px">九(3)班</div>
<div class="t" style="left:737.2px;width:300px;text-align:center;top:295.0px;height:12px;line-height:12px;font-size:9.5px;color:#333;font-weight:normal;letter-spacing:-0.55px">60</div>
<div class="t" style="left:802.3px;width:300px;text-align:center;top:295.0px;height:12px;line-height:12px;font-size:9.5px;color:#333;font-weight:normal;letter-spacing:-0.55px">120</div>
<div class="t" style="left:868.4px;width:300px;text-align:center;top:296.0px;height:12px;line-height:12px;font-size:9.5px;color:#333;font-weight:normal;letter-spacing:-0.55px">113</div>
<div class="t" style="left:940.0px;width:300px;text-align:center;top:291.2px;height:12px;line-height:12px;font-size:9.5px;color:#333;font-weight:normal;letter-spacing:-0.55px">10</div>
<div class="t" style="left:1013.0px;width:300px;text-align:center;top:290.8px;height:12px;line-height:12px;font-size:9.5px;color:#333;font-weight:normal;letter-spacing:-0.55px">12</div>
<div class="t" style="left:1087.5px;width:300px;text-align:center;top:290.0px;height:12px;line-height:12px;font-size:9.5px;color:#333;font-weight:normal;letter-spacing:-0.55px">10%</div>
<div class="t" style="left:1160.5px;width:300px;text-align:center;top:290.0px;height:12px;line-height:12px;font-size:9.5px;color:#333;font-weight:normal;letter-spacing:-0.55px">10%</div>
<div class="r" style="left:714.0px;top:335.8px;width:648.0px;height:0.8px;background:#eef1f4"></div>
<div class="t" style="left:600.7px;width:300px;text-align:center;top:316.3px;height:11px;line-height:11px;font-size:8.5px;color:#333;font-weight:normal;letter-spacing:-0.2px">九(4)班</div>
<div class="t" style="left:737.2px;width:300px;text-align:center;top:320.9px;height:12px;line-height:12px;font-size:9.5px;color:#333;font-weight:normal;letter-spacing:-0.55px">60</div>
<div class="t" style="left:802.3px;width:300px;text-align:center;top:320.9px;height:12px;line-height:12px;font-size:9.5px;color:#333;font-weight:normal;letter-spacing:-0.55px">120</div>
<div class="t" style="left:868.4px;width:300px;text-align:center;top:321.9px;height:12px;line-height:12px;font-size:9.5px;color:#333;font-weight:normal;letter-spacing:-0.55px">113</div>
<div class="t" style="left:940.0px;width:300px;text-align:center;top:317.1px;height:12px;line-height:12px;font-size:9.5px;color:#333;font-weight:normal;letter-spacing:-0.55px">4</div>
<div class="t" style="left:1013.0px;width:300px;text-align:center;top:316.7px;height:12px;line-height:12px;font-size:9.5px;color:#333;font-weight:normal;letter-spacing:-0.55px">12</div>
<div class="t" style="left:1087.5px;width:300px;text-align:center;top:315.9px;height:12px;line-height:12px;font-size:9.5px;color:#333;font-weight:normal;letter-spacing:-0.55px">60%</div>
<div class="t" style="left:1160.5px;width:300px;text-align:center;top:315.9px;height:12px;line-height:12px;font-size:9.5px;color:#333;font-weight:normal;letter-spacing:-0.55px">60%</div>
<div class="r" style="left:714.0px;top:361.7px;width:648.0px;height:0.8px;background:#eef1f4"></div>
<div class="t" style="left:600.7px;width:300px;text-align:center;top:342.2px;height:11px;line-height:11px;font-size:8.5px;color:#333;font-weight:normal;letter-spacing:-0.2px">九(5)班</div>
<div class="t" style="left:737.2px;width:300px;text-align:center;top:346.8px;height:12px;line-height:12px;font-size:9.5px;color:#333;font-weight:normal;letter-spacing:-0.55px">60</div>
<div class="t" style="left:802.3px;width:300px;text-align:center;top:346.8px;height:12px;line-height:12px;font-size:9.5px;color:#333;font-weight:normal;letter-spacing:-0.55px">120</div>
<div class="t" style="left:868.4px;width:300px;text-align:center;top:347.8px;height:12px;line-height:12px;font-size:9.5px;color:#333;font-weight:normal;letter-spacing:-0.55px">113</div>
<div class="t" style="left:940.0px;width:300px;text-align:center;top:343.0px;height:12px;line-height:12px;font-size:9.5px;color:#333;font-weight:normal;letter-spacing:-0.55px">1</div>
<div class="t" style="left:1013.0px;width:300px;text-align:center;top:342.6px;height:12px;line-height:12px;font-size:9.5px;color:#333;font-weight:normal;letter-spacing:-0.55px">12</div>
<div class="t" style="left:1087.5px;width:300px;text-align:center;top:341.8px;height:12px;line-height:12px;font-size:9.5px;color:#333;font-weight:normal;letter-spacing:-0.55px">45%</div>
<div class="t" style="left:1160.5px;width:300px;text-align:center;top:341.8px;height:12px;line-height:12px;font-size:9.5px;color:#333;font-weight:normal;letter-spacing:-0.55px">45%</div>
<div class="r" style="left:714.0px;top:387.6px;width:648.0px;height:0.8px;background:#eef1f4"></div>
<div class="t" style="left:600.7px;width:300px;text-align:center;top:368.1px;height:11px;line-height:11px;font-size:8.5px;color:#333;font-weight:normal;letter-spacing:-0.2px">九(6)班</div>
<div class="t" style="left:737.2px;width:300px;text-align:center;top:372.7px;height:12px;line-height:12px;font-size:9.5px;color:#333;font-weight:normal;letter-spacing:-0.55px">60</div>
<div class="t" style="left:802.3px;width:300px;text-align:center;top:372.7px;height:12px;line-height:12px;font-size:9.5px;color:#333;font-weight:normal;letter-spacing:-0.55px">120</div>
<div class="t" style="left:868.4px;width:300px;text-align:center;top:373.7px;height:12px;line-height:12px;font-size:9.5px;color:#333;font-weight:normal;letter-spacing:-0.55px">113</div>
<div class="t" style="left:940.0px;width:300px;text-align:center;top:368.9px;height:12px;line-height:12px;font-size:9.5px;color:#333;font-weight:normal;letter-spacing:-0.55px">7</div>
<div class="t" style="left:1013.0px;width:300px;text-align:center;top:368.5px;height:12px;line-height:12px;font-size:9.5px;color:#333;font-weight:normal;letter-spacing:-0.55px">12</div>
<div class="t" style="left:1087.5px;width:300px;text-align:center;top:367.7px;height:12px;line-height:12px;font-size:9.5px;color:#333;font-weight:normal;letter-spacing:-0.55px">30%</div>
<div class="t" style="left:1160.5px;width:300px;text-align:center;top:367.7px;height:12px;line-height:12px;font-size:9.5px;color:#333;font-weight:normal;letter-spacing:-0.55px">30%</div>
<div class="r" style="left:714.0px;top:413.5px;width:648.0px;height:0.8px;background:#eef1f4"></div>
<div class="t" style="left:600.7px;width:300px;text-align:center;top:394.0px;height:11px;line-height:11px;font-size:8.5px;color:#333;font-weight:normal;letter-spacing:-0.2px">九(7)班</div>
<div class="t" style="left:737.2px;width:300px;text-align:center;top:398.6px;height:12px;line-height:12px;font-size:9.5px;color:#333;font-weight:normal;letter-spacing:-0.55px">60</div>
<div class="t" style="left:802.3px;width:300px;text-align:center;top:398.6px;height:12px;line-height:12px;font-size:9.5px;color:#333;font-weight:normal;letter-spacing:-0.55px">120</div>
<div class="t" style="left:868.4px;width:300px;text-align:center;top:399.6px;height:12px;line-height:12px;font-size:9.5px;color:#333;font-weight:normal;letter-spacing:-0.55px">113</div>
<div class="t" style="left:940.0px;width:300px;text-align:center;top:394.8px;height:12px;line-height:12px;font-size:9.5px;color:#333;font-weight:normal;letter-spacing:-0.55px">0</div>
<div class="t" style="left:1013.0px;width:300px;text-align:center;top:394.4px;height:12px;line-height:12px;font-size:9.5px;color:#333;font-weight:normal;letter-spacing:-0.55px">12</div>
<div class="t" style="left:1087.5px;width:300px;text-align:center;top:393.6px;height:12px;line-height:12px;font-size:9.5px;color:#333;font-weight:normal;letter-spacing:-0.55px">20%</div>
<div class="t" style="left:1160.5px;width:300px;text-align:center;top:393.6px;height:12px;line-height:12px;font-size:9.5px;color:#333;font-weight:normal;letter-spacing:-0.55px">20%</div>
<div class="r" style="left:714.0px;top:439.4px;width:648.0px;height:0.8px;background:#eef1f4"></div>
<div class="t" style="left:600.7px;width:300px;text-align:center;top:419.9px;height:11px;line-height:11px;font-size:8.5px;color:#333;font-weight:normal;letter-spacing:-0.2px">九(8)班</div>
<div class="t" style="left:737.2px;width:300px;text-align:center;top:424.5px;height:12px;line-height:12px;font-size:9.5px;color:#333;font-weight:normal;letter-spacing:-0.55px">60</div>
<div class="t" style="left:802.3px;width:300px;text-align:center;top:424.5px;height:12px;line-height:12px;font-size:9.5px;color:#333;font-weight:normal;letter-spacing:-0.55px">120</div>
<div class="t" style="left:868.4px;width:300px;text-align:center;top:425.5px;height:12px;line-height:12px;font-size:9.5px;color:#333;font-weight:normal;letter-spacing:-0.55px">113</div>
<div class="t" style="left:940.0px;width:300px;text-align:center;top:420.7px;height:12px;line-height:12px;font-size:9.5px;color:#333;font-weight:normal;letter-spacing:-0.55px">60</div>
<div class="t" style="left:1013.0px;width:300px;text-align:center;top:420.3px;height:12px;line-height:12px;font-size:9.5px;color:#333;font-weight:normal;letter-spacing:-0.55px">12</div>
<div class="t" style="left:1087.5px;width:300px;text-align:center;top:419.5px;height:12px;line-height:12px;font-size:9.5px;color:#333;font-weight:normal;letter-spacing:-0.55px">0%</div>
<div class="t" style="left:1160.5px;width:300px;text-align:center;top:419.5px;height:12px;line-height:12px;font-size:9.5px;color:#333;font-weight:normal;letter-spacing:-0.55px">0%</div>
<div class="r" style="left:714.0px;top:465.3px;width:648.0px;height:0.8px;background:#eef1f4"></div>
<div class="t" style="left:600.7px;width:300px;text-align:center;top:445.8px;height:11px;line-height:11px;font-size:8.5px;color:#333;font-weight:normal;letter-spacing:-0.2px">九(9)班</div>
<div class="t" style="left:737.2px;width:300px;text-align:center;top:450.4px;height:12px;line-height:12px;font-size:9.5px;color:#333;font-weight:normal;letter-spacing:-0.55px">60</div>
<div class="t" style="left:802.3px;width:300px;text-align:center;top:450.4px;height:12px;line-height:12px;font-size:9.5px;color:#333;font-weight:normal;letter-spacing:-0.55px">120</div>
<div class="t" style="left:868.4px;width:300px;text-align:center;top:451.4px;height:12px;line-height:12px;font-size:9.5px;color:#333;font-weight:normal;letter-spacing:-0.55px">113</div>
<div class="t" style="left:940.0px;width:300px;text-align:center;top:446.6px;height:12px;line-height:12px;font-size:9.5px;color:#333;font-weight:normal;letter-spacing:-0.55px">4</div>
<div class="t" style="left:1013.0px;width:300px;text-align:center;top:446.2px;height:12px;line-height:12px;font-size:9.5px;color:#333;font-weight:normal;letter-spacing:-0.55px">12</div>
<div class="t" style="left:1087.5px;width:300px;text-align:center;top:445.4px;height:12px;line-height:12px;font-size:9.5px;color:#333;font-weight:normal;letter-spacing:-0.55px">60%</div>
<div class="t" style="left:1160.5px;width:300px;text-align:center;top:445.4px;height:12px;line-height:12px;font-size:9.5px;color:#333;font-weight:normal;letter-spacing:-0.55px">60%</div>
<div class="r" style="left:803.6px;top:293.2px;width:28.1px;height:168.8px;background:linear-gradient(180deg,#59e5f7 0%,#9fdcef 45%,#dccbe0 75%,#f1c3d3 100%);filter:blur(1.2px)"></div>
<div class="r" style="left:714.0px;top:465.8px;width:648.0px;height:10.2px;background:#f4f7fa"></div>
<div class="t" style="left:726.2px;top:486.1px;height:13px;line-height:13px;font-size:10px;color:#333;font-weight:normal;">学业等级分布</div>
<div class="r" style="left:973.1px;top:485.2px;width:86.19999999999993px;height:18.400000000000034px;border:1px solid #00bec4;border-radius:3px;background:#fff;overflow:hidden"><div style="position:absolute;left:41.89999999999998px;top:0;right:0;height:100%;background:#00bec4"></div></div>
<div class="t" style="left:844.5px;width:300px;text-align:center;top:488.9px;height:11px;line-height:11px;font-size:9px;color:#333;font-weight:normal;">柱状图</div>
<div class="t" style="left:887.7px;width:300px;text-align:center;top:488.9px;height:11px;line-height:11px;font-size:9px;color:#fff;font-weight:normal;">表格</div>
<div class="t" style="left:1211.0px;top:489.2px;height:10px;line-height:10px;font-size:8px;color:#1bb9c1;font-weight:normal;letter-spacing:-0.3px">设置分数段</div>
<svg class="r" style="left:1253px;top:489.7px" width="9" height="9"><circle cx="4.5" cy="4.5" r="3.5" fill="none" stroke="#1bb9c1" stroke-width="0.9"/><circle cx="4.5" cy="4.5" r="1.2" fill="#1bb9c1"/></svg>
<div class="t" style="left:1286.5px;top:489.7px;height:10px;line-height:10px;font-size:8px;color:#1bb9c1;font-weight:normal;letter-spacing:-0.3px">选择班级</div>
<svg class="r" style="left:1323.0px;top:492.2px" width="8" height="6"><path d="M0,0 L8,0 L4,6 Z" fill="#1bb9c1"/></svg>
<div class="r" style="left:714.0px;top:515.3px;width:648.0px;height:42.3px;background:#edf4f9;border-top:1px solid #dfe8ef;border-bottom:1px solid #dfe8ef"></div>
<div class="r" style="left:759.4px;top:536.2px;width:602.6px;height:1.0px;background:#dfe8ef"></div>
<div class="r" style="left:714.0px;top:515.3px;width:1.0px;height:42.3px;background:#dfe8ef"></div>
<div class="r" style="left:759.4px;top:515.3px;width:1.0px;height:42.3px;background:#dfe8ef"></div>
<div class="r" style="left:759.4px;top:557.6px;width:1.0px;height:205.4px;background:#eef1f4"></div>
<div class="r" style="left:908.3px;top:515.3px;width:1.0px;height:42.3px;background:#dfe8ef"></div>
<div class="r" style="left:908.3px;top:557.6px;width:1.0px;height:205.4px;background:#eef1f4"></div>
<div class="r" style="left:1060.8px;top:515.3px;width:1.0px;height:42.3px;background:#dfe8ef"></div>
<div class="r" style="left:1060.8px;top:557.6px;width:1.0px;height:205.4px;background:#eef1f4"></div>
<div class="r" style="left:1212.6px;top:515.3px;width:1.0px;height:42.3px;background:#dfe8ef"></div>
<div class="r" style="left:1212.6px;top:557.6px;width:1.0px;height:205.4px;background:#eef1f4"></div>
<div class="t" style="left:586.9px;width:300px;text-align:center;top:531.0px;height:11px;line-height:11px;font-size:9px;color:#555;font-weight:normal;">班级</div>
<div class="t" style="left:683.8px;width:300px;text-align:center;top:520.5px;height:11px;line-height:11px;font-size:9px;color:#555;font-weight:normal;">A等：100-120</div>
<div class="t" style="left:788.2px;top:541.7px;height:11px;line-height:11px;font-size:9px;color:#555;font-weight:normal;">人数</div>
<svg class="r" style="left:809.2px;top:542.2px" width="8" height="11"><path d="M4,0.5 L7.5,4.6 L0.5,4.6 Z M4,10.5 L7.5,6.4 L0.5,6.4 Z" fill="#b0b4ba"/></svg>
<div class="t" style="left:838.2px;top:541.7px;height:11px;line-height:11px;font-size:9px;color:#555;font-weight:normal;">比例</div>
<svg class="r" style="left:859.2px;top:542.2px" width="8" height="11"><path d="M4,0.5 L7.5,4.6 L0.5,4.6 Z M4,10.5 L7.5,6.4 L0.5,6.4 Z" fill="#b0b4ba"/></svg>
<div class="t" style="left:834.5px;width:300px;text-align:center;top:520.5px;height:11px;line-height:11px;font-size:9px;color:#555;font-weight:normal;">B等：80-100</div>
<div class="t" style="left:942.3px;top:541.7px;height:11px;line-height:11px;font-size:9px;color:#555;font-weight:normal;">人数</div>
<svg class="r" style="left:963.3px;top:542.2px" width="8" height="11"><path d="M4,0.5 L7.5,4.6 L0.5,4.6 Z M4,10.5 L7.5,6.4 L0.5,6.4 Z" fill="#b0b4ba"/></svg>
<div class="t" style="left:994.0px;top:541.7px;height:11px;line-height:11px;font-size:9px;color:#555;font-weight:normal;">比例</div>
<svg class="r" style="left:1015.0px;top:542.2px" width="8" height="11"><path d="M4,0.5 L7.5,4.6 L0.5,4.6 Z M4,10.5 L7.5,6.4 L0.5,6.4 Z" fill="#b0b4ba"/></svg>
<div class="t" style="left:986.7px;width:300px;text-align:center;top:520.5px;height:11px;line-height:11px;font-size:9px;color:#555;font-weight:normal;">C等：60--80</div>
<div class="t" style="left:1097.9px;top:541.7px;height:11px;line-height:11px;font-size:9px;color:#555;font-weight:normal;">人数</div>
<svg class="r" style="left:1118.9px;top:542.2px" width="8" height="11"><path d="M4,0.5 L7.5,4.6 L0.5,4.6 Z M4,10.5 L7.5,6.4 L0.5,6.4 Z" fill="#b0b4ba"/></svg>
<div class="t" style="left:1147.5px;top:541.7px;height:11px;line-height:11px;font-size:9px;color:#555;font-weight:normal;">比例</div>
<svg class="r" style="left:1168.5px;top:542.2px" width="8" height="11"><path d="M4,0.5 L7.5,4.6 L0.5,4.6 Z M4,10.5 L7.5,6.4 L0.5,6.4 Z" fill="#b0b4ba"/></svg>
<div class="t" style="left:1137.3px;width:300px;text-align:center;top:520.5px;height:11px;line-height:11px;font-size:9px;color:#555;font-weight:normal;">D等：60以下</div>
<div class="t" style="left:1252.7px;top:541.7px;height:11px;line-height:11px;font-size:9px;color:#555;font-weight:normal;">人数</div>
<svg class="r" style="left:1273.7px;top:542.2px" width="8" height="11"><path d="M4,0.5 L7.5,4.6 L0.5,4.6 Z M4,10.5 L7.5,6.4 L0.5,6.4 Z" fill="#b0b4ba"/></svg>
<div class="t" style="left:1303.8px;top:541.7px;height:11px;line-height:11px;font-size:9px;color:#555;font-weight:normal;">比例</div>
<svg class="r" style="left:1324.8px;top:542.2px" width="8" height="11"><path d="M4,0.5 L7.5,4.6 L0.5,4.6 Z M4,10.5 L7.5,6.4 L0.5,6.4 Z" fill="#b0b4ba"/></svg>
<div class="r" style="left:714.0px;top:583.1px;width:648.0px;height:0.8px;background:#eef1f4"></div>
<div class="t" style="left:586.9px;width:300px;text-align:center;top:563.7px;height:11px;line-height:11px;font-size:8.5px;color:#333;font-weight:normal;letter-spacing:-0.2px">全部</div>
<div class="t" style="left:647.4px;width:300px;text-align:center;top:563.4px;height:12px;line-height:12px;font-size:9.5px;color:#333;font-weight:normal;letter-spacing:-0.55px">66</div>
<div class="t" style="left:701.0px;width:300px;text-align:center;top:563.4px;height:12px;line-height:12px;font-size:9.5px;color:#333;font-weight:normal;letter-spacing:-0.55px">100%</div>
<div class="t" style="left:803.1px;width:300px;text-align:center;top:563.4px;height:12px;line-height:12px;font-size:9.5px;color:#333;font-weight:normal;letter-spacing:-0.55px">66</div>
<div class="t" style="left:856.0px;width:300px;text-align:center;top:563.4px;height:12px;line-height:12px;font-size:9.5px;color:#333;font-weight:normal;letter-spacing:-0.55px">100%</div>
<div class="t" style="left:958.8px;width:300px;text-align:center;top:563.4px;height:12px;line-height:12px;font-size:9.5px;color:#333;font-weight:normal;letter-spacing:-0.55px">66</div>
<div class="t" style="left:1012.4px;width:300px;text-align:center;top:563.4px;height:12px;line-height:12px;font-size:9.5px;color:#333;font-weight:normal;letter-spacing:-0.55px">100%</div>
<div class="t" style="left:1114.5px;width:300px;text-align:center;top:563.4px;height:12px;line-height:12px;font-size:9.5px;color:#333;font-weight:normal;letter-spacing:-0.55px">66</div>
<div class="t" style="left:1168.2px;width:300px;text-align:center;top:563.4px;height:12px;line-height:12px;font-size:9.5px;color:#333;font-weight:normal;letter-spacing:-0.55px">100%</div>
<div class="r" style="left:714.0px;top:609.0px;width:648.0px;height:0.8px;background:#eef1f4"></div>
<div class="t" style="left:586.9px;width:300px;text-align:center;top:589.6px;height:11px;line-height:11px;font-size:8.5px;color:#333;font-weight:normal;letter-spacing:-0.2px">九(3)班</div>
<div class="t" style="left:647.4px;width:300px;text-align:center;top:589.3px;height:12px;line-height:12px;font-size:9.5px;color:#333;font-weight:normal;letter-spacing:-0.55px">12</div>
<div class="t" style="left:701.0px;width:300px;text-align:center;top:589.3px;height:12px;line-height:12px;font-size:9.5px;color:#333;font-weight:normal;letter-spacing:-0.55px">0%</div>
<div class="t" style="left:803.1px;width:300px;text-align:center;top:589.3px;height:12px;line-height:12px;font-size:9.5px;color:#333;font-weight:normal;letter-spacing:-0.55px">12</div>
<div class="t" style="left:856.0px;width:300px;text-align:center;top:589.3px;height:12px;line-height:12px;font-size:9.5px;color:#333;font-weight:normal;letter-spacing:-0.55px">0%</div>
<div class="t" style="left:958.8px;width:300px;text-align:center;top:589.3px;height:12px;line-height:12px;font-size:9.5px;color:#333;font-weight:normal;letter-spacing:-0.55px">12</div>
<div class="t" style="left:1012.4px;width:300px;text-align:center;top:589.3px;height:12px;line-height:12px;font-size:9.5px;color:#333;font-weight:normal;letter-spacing:-0.55px">0%</div>
<div class="t" style="left:1114.5px;width:300px;text-align:center;top:589.3px;height:12px;line-height:12px;font-size:9.5px;color:#333;font-weight:normal;letter-spacing:-0.55px">12</div>
<div class="t" style="left:1168.2px;width:300px;text-align:center;top:589.3px;height:12px;line-height:12px;font-size:9.5px;color:#333;font-weight:normal;letter-spacing:-0.55px">0%</div>
<div class="r" style="left:714.0px;top:634.9px;width:648.0px;height:0.8px;background:#eef1f4"></div>
<div class="t" style="left:586.9px;width:300px;text-align:center;top:615.5px;height:11px;line-height:11px;font-size:8.5px;color:#333;font-weight:normal;letter-spacing:-0.2px">九(4)班</div>
<div class="t" style="left:647.4px;width:300px;text-align:center;top:615.2px;height:12px;line-height:12px;font-size:9.5px;color:#333;font-weight:normal;letter-spacing:-0.55px">12</div>
<div class="t" style="left:701.0px;width:300px;text-align:center;top:615.2px;height:12px;line-height:12px;font-size:9.5px;color:#333;font-weight:normal;letter-spacing:-0.55px">60%</div>
<div class="t" style="left:803.1px;width:300px;text-align:center;top:615.2px;height:12px;line-height:12px;font-size:9.5px;color:#333;font-weight:normal;letter-spacing:-0.55px">12</div>
<div class="t" style="left:856.0px;width:300px;text-align:center;top:615.2px;height:12px;line-height:12px;font-size:9.5px;color:#333;font-weight:normal;letter-spacing:-0.55px">60%</div>
<div class="t" style="left:958.8px;width:300px;text-align:center;top:615.2px;height:12px;line-height:12px;font-size:9.5px;color:#333;font-weight:normal;letter-spacing:-0.55px">12</div>
<div class="t" style="left:1012.4px;width:300px;text-align:center;top:615.2px;height:12px;line-height:12px;font-size:9.5px;color:#333;font-weight:normal;letter-spacing:-0.55px">60%</div>
<div class="t" style="left:1114.5px;width:300px;text-align:center;top:615.2px;height:12px;line-height:12px;font-size:9.5px;color:#333;font-weight:normal;letter-spacing:-0.55px">12</div>
<div class="t" style="left:1168.2px;width:300px;text-align:center;top:615.2px;height:12px;line-height:12px;font-size:9.5px;color:#333;font-weight:normal;letter-spacing:-0.55px">60%</div>
<div class="r" style="left:714.0px;top:660.8px;width:648.0px;height:0.8px;background:#eef1f4"></div>
<div class="t" style="left:586.9px;width:300px;text-align:center;top:641.4px;height:11px;line-height:11px;font-size:8.5px;color:#333;font-weight:normal;letter-spacing:-0.2px">九(5)班</div>
<div class="t" style="left:647.4px;width:300px;text-align:center;top:641.1px;height:12px;line-height:12px;font-size:9.5px;color:#333;font-weight:normal;letter-spacing:-0.55px">12</div>
<div class="t" style="left:701.0px;width:300px;text-align:center;top:641.1px;height:12px;line-height:12px;font-size:9.5px;color:#333;font-weight:normal;letter-spacing:-0.55px">45%</div>
<div class="t" style="left:803.1px;width:300px;text-align:center;top:641.1px;height:12px;line-height:12px;font-size:9.5px;color:#333;font-weight:normal;letter-spacing:-0.55px">12</div>
<div class="t" style="left:856.0px;width:300px;text-align:center;top:641.1px;height:12px;line-height:12px;font-size:9.5px;color:#333;font-weight:normal;letter-spacing:-0.55px">45%</div>
<div class="t" style="left:958.8px;width:300px;text-align:center;top:641.1px;height:12px;line-height:12px;font-size:9.5px;color:#333;font-weight:normal;letter-spacing:-0.55px">12</div>
<div class="t" style="left:1012.4px;width:300px;text-align:center;top:641.1px;height:12px;line-height:12px;font-size:9.5px;color:#333;font-weight:normal;letter-spacing:-0.55px">45%</div>
<div class="t" style="left:1114.5px;width:300px;text-align:center;top:641.1px;height:12px;line-height:12px;font-size:9.5px;color:#333;font-weight:normal;letter-spacing:-0.55px">12</div>
<div class="t" style="left:1168.2px;width:300px;text-align:center;top:641.1px;height:12px;line-height:12px;font-size:9.5px;color:#333;font-weight:normal;letter-spacing:-0.55px">45%</div>
<div class="r" style="left:714.0px;top:686.7px;width:648.0px;height:0.8px;background:#eef1f4"></div>
<div class="t" style="left:586.9px;width:300px;text-align:center;top:667.3px;height:11px;line-height:11px;font-size:8.5px;color:#333;font-weight:normal;letter-spacing:-0.2px">九(6)班</div>
<div class="t" style="left:647.4px;width:300px;text-align:center;top:667.0px;height:12px;line-height:12px;font-size:9.5px;color:#333;font-weight:normal;letter-spacing:-0.55px">12</div>
<div class="t" style="left:701.0px;width:300px;text-align:center;top:667.0px;height:12px;line-height:12px;font-size:9.5px;color:#333;font-weight:normal;letter-spacing:-0.55px">30%</div>
<div class="t" style="left:803.1px;width:300px;text-align:center;top:667.0px;height:12px;line-height:12px;font-size:9.5px;color:#333;font-weight:normal;letter-spacing:-0.55px">12</div>
<div class="t" style="left:856.0px;width:300px;text-align:center;top:667.0px;height:12px;line-height:12px;font-size:9.5px;color:#333;font-weight:normal;letter-spacing:-0.55px">30%</div>
<div class="t" style="left:958.8px;width:300px;text-align:center;top:667.0px;height:12px;line-height:12px;font-size:9.5px;color:#333;font-weight:normal;letter-spacing:-0.55px">12</div>
<div class="t" style="left:1012.4px;width:300px;text-align:center;top:667.0px;height:12px;line-height:12px;font-size:9.5px;color:#333;font-weight:normal;letter-spacing:-0.55px">30%</div>
<div class="t" style="left:1114.5px;width:300px;text-align:center;top:667.0px;height:12px;line-height:12px;font-size:9.5px;color:#333;font-weight:normal;letter-spacing:-0.55px">12</div>
<div class="t" style="left:1168.2px;width:300px;text-align:center;top:667.0px;height:12px;line-height:12px;font-size:9.5px;color:#333;font-weight:normal;letter-spacing:-0.55px">30%</div>
<div class="r" style="left:714.0px;top:712.6px;width:648.0px;height:0.8px;background:#eef1f4"></div>
<div class="t" style="left:586.9px;width:300px;text-align:center;top:693.2px;height:11px;line-height:11px;font-size:8.5px;color:#333;font-weight:normal;letter-spacing:-0.2px">九(7)班</div>
<div class="t" style="left:647.4px;width:300px;text-align:center;top:692.9px;height:12px;line-height:12px;font-size:9.5px;color:#333;font-weight:normal;letter-spacing:-0.55px">12</div>
<div class="t" style="left:701.0px;width:300px;text-align:center;top:692.9px;height:12px;line-height:12px;font-size:9.5px;color:#333;font-weight:normal;letter-spacing:-0.55px">20%</div>
<div class="t" style="left:803.1px;width:300px;text-align:center;top:692.9px;height:12px;line-height:12px;font-size:9.5px;color:#333;font-weight:normal;letter-spacing:-0.55px">12</div>
<div class="t" style="left:856.0px;width:300px;text-align:center;top:692.9px;height:12px;line-height:12px;font-size:9.5px;color:#333;font-weight:normal;letter-spacing:-0.55px">20%</div>
<div class="t" style="left:958.8px;width:300px;text-align:center;top:692.9px;height:12px;line-height:12px;font-size:9.5px;color:#333;font-weight:normal;letter-spacing:-0.55px">12</div>
<div class="t" style="left:1012.4px;width:300px;text-align:center;top:692.9px;height:12px;line-height:12px;font-size:9.5px;color:#333;font-weight:normal;letter-spacing:-0.55px">20%</div>
<div class="t" style="left:1114.5px;width:300px;text-align:center;top:692.9px;height:12px;line-height:12px;font-size:9.5px;color:#333;font-weight:normal;letter-spacing:-0.55px">12</div>
<div class="t" style="left:1168.2px;width:300px;text-align:center;top:692.9px;height:12px;line-height:12px;font-size:9.5px;color:#333;font-weight:normal;letter-spacing:-0.55px">20%</div>
<div class="r" style="left:714.0px;top:738.5px;width:648.0px;height:0.8px;background:#eef1f4"></div>
<div class="t" style="left:586.9px;width:300px;text-align:center;top:719.1px;height:11px;line-height:11px;font-size:8.5px;color:#333;font-weight:normal;letter-spacing:-0.2px">九(8)班</div>
<div class="t" style="left:647.4px;width:300px;text-align:center;top:718.8px;height:12px;line-height:12px;font-size:9.5px;color:#333;font-weight:normal;letter-spacing:-0.55px">12</div>
<div class="t" style="left:701.0px;width:300px;text-align:center;top:718.8px;height:12px;line-height:12px;font-size:9.5px;color:#333;font-weight:normal;letter-spacing:-0.55px">0%</div>
<div class="t" style="left:803.1px;width:300px;text-align:center;top:718.8px;height:12px;line-height:12px;font-size:9.5px;color:#333;font-weight:normal;letter-spacing:-0.55px">12</div>
<div class="t" style="left:856.0px;width:300px;text-align:center;top:718.8px;height:12px;line-height:12px;font-size:9.5px;color:#333;font-weight:normal;letter-spacing:-0.55px">0%</div>
<div class="t" style="left:958.8px;width:300px;text-align:center;top:718.8px;height:12px;line-height:12px;font-size:9.5px;color:#333;font-weight:normal;letter-spacing:-0.55px">12</div>
<div class="t" style="left:1012.4px;width:300px;text-align:center;top:718.8px;height:12px;line-height:12px;font-size:9.5px;color:#333;font-weight:normal;letter-spacing:-0.55px">0%</div>
<div class="t" style="left:1114.5px;width:300px;text-align:center;top:718.8px;height:12px;line-height:12px;font-size:9.5px;color:#333;font-weight:normal;letter-spacing:-0.55px">12</div>
<div class="t" style="left:1168.2px;width:300px;text-align:center;top:718.8px;height:12px;line-height:12px;font-size:9.5px;color:#333;font-weight:normal;letter-spacing:-0.55px">0%</div>
<div class="r" style="left:714.0px;top:764.4px;width:648.0px;height:0.8px;background:#eef1f4"></div>
<div class="t" style="left:586.9px;width:300px;text-align:center;top:745.0px;height:11px;line-height:11px;font-size:8.5px;color:#333;font-weight:normal;letter-spacing:-0.2px">九(9)班</div>
<div class="t" style="left:647.4px;width:300px;text-align:center;top:744.7px;height:12px;line-height:12px;font-size:9.5px;color:#333;font-weight:normal;letter-spacing:-0.55px">12</div>
<div class="t" style="left:701.0px;width:300px;text-align:center;top:744.7px;height:12px;line-height:12px;font-size:9.5px;color:#333;font-weight:normal;letter-spacing:-0.55px">60%</div>
<div class="t" style="left:803.1px;width:300px;text-align:center;top:744.7px;height:12px;line-height:12px;font-size:9.5px;color:#333;font-weight:normal;letter-spacing:-0.55px">12</div>
<div class="t" style="left:856.0px;width:300px;text-align:center;top:744.7px;height:12px;line-height:12px;font-size:9.5px;color:#333;font-weight:normal;letter-spacing:-0.55px">60%</div>
<div class="t" style="left:958.8px;width:300px;text-align:center;top:744.7px;height:12px;line-height:12px;font-size:9.5px;color:#333;font-weight:normal;letter-spacing:-0.55px">12</div>
<div class="t" style="left:1012.4px;width:300px;text-align:center;top:744.7px;height:12px;line-height:12px;font-size:9.5px;color:#333;font-weight:normal;letter-spacing:-0.55px">60%</div>
<div class="t" style="left:1114.5px;width:300px;text-align:center;top:744.7px;height:12px;line-height:12px;font-size:9.5px;color:#333;font-weight:normal;letter-spacing:-0.55px">12</div>
<div class="t" style="left:1168.2px;width:300px;text-align:center;top:744.7px;height:12px;line-height:12px;font-size:9.5px;color:#333;font-weight:normal;letter-spacing:-0.55px">60%</div>
<div class="r" style="left:714.0px;top:232.3px;width:1.0px;height:233.5px;background:#d9e9f6"></div>
</body></html>
